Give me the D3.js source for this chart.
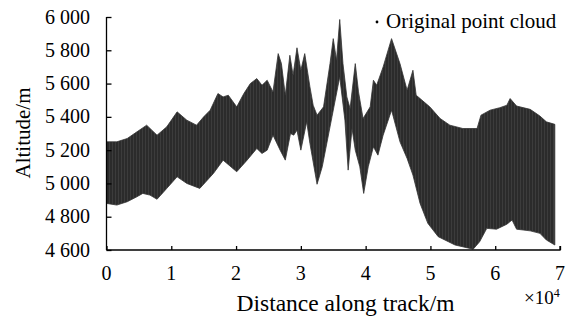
<!DOCTYPE html>
<html><head><meta charset="utf-8">
<script src="https://cdn.jsdelivr.net/npm/d3@7/dist/d3.min.js"></script>
<style>
html,body{margin:0;padding:0;background:#fff;} svg{display:block;}
svg text{font-family:"Liberation Serif","Times New Roman",Times,"DejaVu Serif",serif;}
</style>
</head><body>
<svg id="chart" width="574" height="320"></svg>
<script>
// Distance along track in units of 10^4 m, altitude in m
const upperDist = [0,0.16,0.32,0.47,0.62,0.78,0.93,1.09,1.24,1.39,1.5,1.6,1.72,1.8,1.88,2.01,2.12,2.22,2.32,2.40,2.48,2.57,2.65,2.70,2.76,2.83,2.88,2.94,3.00,3.06,3.14,3.19,3.25,3.35,3.45,3.50,3.55,3.60,3.65,3.71,3.76,3.84,3.89,3.96,4.07,4.12,4.17,4.27,4.40,4.53,4.64,4.73,4.78,4.84,4.99,5.15,5.30,5.50,5.72,5.78,5.92,6.07,6.18,6.23,6.33,6.54,6.69,6.79,6.92];
const upperAlt  = [5250,5250,5270,5310,5350,5290,5340,5430,5380,5350,5400,5440,5540,5520,5530,5460,5540,5600,5630,5590,5620,5550,5780,5720,5530,5770,5650,5815,5680,5780,5580,5470,5410,5460,5720,5870,5740,5985,5720,5520,5450,5720,5550,5390,5460,5620,5590,5700,5870,5720,5560,5680,5530,5510,5460,5390,5350,5330,5330,5410,5440,5455,5470,5510,5465,5445,5405,5370,5355];
const lowerDist = [0,0.16,0.32,0.47,0.56,0.67,0.78,0.93,1.09,1.24,1.44,1.65,1.80,2.01,2.17,2.32,2.40,2.48,2.57,2.68,2.76,2.84,2.89,2.94,3.00,3.09,3.14,3.25,3.33,3.48,3.60,3.68,3.73,3.79,3.84,3.91,3.97,4.04,4.12,4.19,4.27,4.40,4.53,4.64,4.73,4.84,4.96,5.12,5.38,5.66,5.76,5.87,6.02,6.18,6.26,6.33,6.54,6.69,6.79,6.92];
const lowerAlt  = [4880,4870,4890,4920,4940,4930,4905,4970,5040,5000,4970,5060,5140,5070,5140,5210,5180,5200,5290,5200,5140,5300,5290,5320,5200,5370,5240,4995,5100,5400,5640,5380,5080,5330,5200,5100,4940,5100,5220,5170,5290,5440,5250,5150,5050,4880,4760,4680,4630,4605,4650,4730,4725,4755,4780,4725,4715,4700,4660,4630];
const xTicks = [0,1,2,3,4,5,6,7];
const yTicks = [4600,4800,5000,5200,5400,5600,5800,6000];
const xTitle = "Distance along track/m";
const yTitle = "Altitude/m";
const legendLabel = "Original point cloud";

const svg = d3.select("#chart");
const L = 106.5, R = 560, T = 17, B = 250;
const x = d3.scaleLinear().domain([0,7]).range([L,R]);
const y = d3.scaleLinear().domain([4600,6000]).range([B,T]);
const font = '"Liberation Serif","Times New Roman",Times,serif';

// pattern for point-cloud texture
const defs = svg.append("defs");
const pat = defs.append("pattern").attr("id","striae").attr("patternUnits","userSpaceOnUse")
  .attr("width",3).attr("height",4);
pat.append("rect").attr("width",3).attr("height",4).attr("fill","#2b2b2b");
pat.append("rect").attr("x",1).attr("width",1).attr("height",4).attr("fill","#3c3c3c");

const pts = upperDist.map((d,i)=>[d,upperAlt[i]])
  .concat(lowerDist.map((d,i)=>[d,lowerAlt[i]]).reverse());
const line = d3.line().x(d=>x(d[0])).y(d=>y(d[1]));
svg.append("path").attr("d", line(pts) + "Z")
  .attr("fill","url(#striae)").attr("stroke","#333").attr("stroke-width",0.8);

// axes
const ax = svg.append("g").attr("transform",`translate(0,${B})`)
  .call(d3.axisTop(x).tickValues(xTicks).tickSize(4).tickFormat(""));
const ay = svg.append("g").attr("transform",`translate(${L},0)`)
  .call(d3.axisRight(y).tickValues(yTicks).tickSize(5).tickFormat(""));
[ax,ay].forEach(g=>{
  g.select(".domain").attr("stroke","#000").attr("stroke-width",1.3);
  g.selectAll(".tick line").attr("stroke","#000").attr("stroke-width",1.3);
});
ax.select(".domain").attr("d",`M${L},0H${R}V-4`);
ay.select(".domain").attr("d",`M0,${B}V${T}H0`);

// tick labels
svg.append("g").selectAll("text").data(xTicks).join("text")
  .attr("x",d=>x(d)).attr("y",280).attr("text-anchor","middle")
  .style("font-family",font).attr("font-size",20).text(d=>d);
svg.append("g").selectAll("text").data(yTicks).join("text")
  .attr("x",90).attr("y",d=>y(d)+6.5).attr("text-anchor","end")
  .style("font-family",font).attr("font-size",20)
  .text(d=>d3.format(",")(d).replace(",", " "));

// titles
svg.append("text").attr("x",(233+458)/2).attr("y",311).attr("text-anchor","middle")
  .style("font-family",font).attr("font-size",23.5).text(xTitle);
svg.append("text").attr("transform","translate(30,133) rotate(-90)").attr("text-anchor","middle")
  .style("font-family",font).attr("font-size",21).text(yTitle);
const mult = svg.append("text").attr("x",524).attr("y",304)
  .style("font-family",font).attr("font-size",19);
mult.append("tspan").text("\u00d710");
mult.append("tspan").attr("font-size",12).attr("dy",-7).text("4");

// legend
svg.append("circle").attr("cx",377).attr("cy",22).attr("r",1.4).attr("fill","#000");
svg.append("text").attr("x",386).attr("y",28).style("font-family",font).attr("font-size",21).text(legendLabel);
</script>
</body></html>
